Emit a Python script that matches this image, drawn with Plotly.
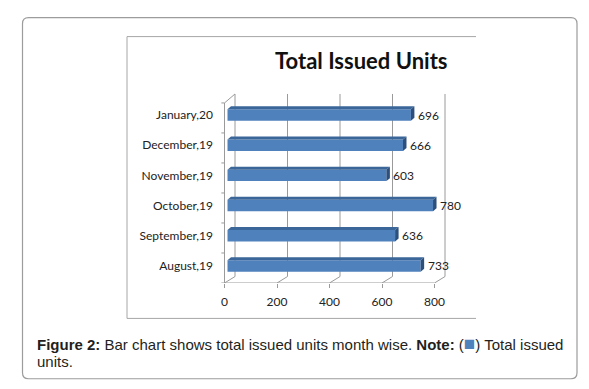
import plotly.graph_objects as go

# ---- data ----
months = ["August,19", "September,19", "October,19", "November,19", "December,19", "January,20"]
units = [733, 636, 780, 603, 666, 696]
tick_vals = [0, 200, 400, 600, 800]
tick_text = ["0", "200", "400", "600", "800"]
title_text = "Total Issued Units"
caption_1 = ("<b>Figure 2:</b> Bar chart shows total issued units month wise. <b>Note:</b> "
             "(<span style='color:#4F81BD;font-size:19px'>■</span>) Total issued")
caption_2 = "units."

# page has an 8px body margin: work in page pixels, convert to figure pixels
OFF = 8
W, H = 589 - OFF, 389 - OFF
PL, PR, PT, PB = 218, 470, 80, 283.5
PW, PH = PR - PL, PB - PT

BAR_X0, BAR_S = 227.5, 0.2635     # bar plane
FR_X0, FR_S = 224.5, 0.2625       # front plane (tick labels)
Y0, YS = 266.4, 30.26             # category centres


def yv(py):
    return (Y0 - py) / YS


def px_paper_x(px):
    return (px - PL) / PW


def px_paper_y(py):
    return (PB - py) / PH


x1_range = [(PL - BAR_X0) / BAR_S, (PR - BAR_X0) / BAR_S]
x2_range = [(PL - FR_X0) / FR_S, (PR - FR_X0) / FR_S]
y_range = [yv(PB), yv(PT)]

ypos = list(range(len(months)))
bar_w = 11.5 / YS

fig = go.Figure()
fig.add_trace(go.Bar(
    x=units, y=ypos, orientation="h", width=bar_w,
    marker=dict(color="#4F81BD", line=dict(width=0)),
    hoverinfo="skip", showlegend=False, xaxis="x", yaxis="y",
))
fig.add_trace(go.Scatter(x=[0], y=[0], mode="markers", marker=dict(opacity=0),
                         xaxis="x2", yaxis="y", showlegend=False, hoverinfo="skip"))

shapes = []
GRID = "#9A9A9A"
dxg = 10.5 / FR_S
dyg = 6.5 / YS
y_front = yv(PB)
y_top = yv(94)
y_left_top = yv(103)
for v in tick_vals:
    shapes.append(dict(type="path", xref="x2", yref="y",
                       path=f"M {v},{y_front} L {v+dxg},{y_front+dyg} L {v+dxg},{y_top}",
                       line=dict(color=GRID, width=1), layer="below"))
shapes.append(dict(type="path", xref="x2", yref="y",
                   path=f"M 0,{y_front} L 0,{y_left_top} L {dxg},{y_top}",
                   line=dict(color=GRID, width=1), layer="below"))
shapes.append(dict(type="line", xref="x2", yref="y", x0=0, x1=tick_vals[-1],
                   y0=y_front, y1=y_front, line=dict(color=GRID, width=1), layer="below"))
n = len(months)
for k in range(n + 1):
    yy = y_front + k * (y_left_top - y_front) / n
    shapes.append(dict(type="line", xref="x2", yref="y", x0=-12, x1=0, y0=yy, y1=yy,
                       line=dict(color=GRID, width=1), layer="below"))

dxb = 3.5 / BAR_S
dyb = 3.0 / YS
for i, v in zip(ypos, units):
    top = i + bar_w / 2
    bot = i - bar_w / 2
    shapes.append(dict(type="path", xref="x", yref="y",
                       path=f"M 0,{top} L {v},{top} L {v+dxb},{top+dyb} L {dxb},{top+dyb} Z",
                       fillcolor="#3A6699", line=dict(width=0)))
    shapes.append(dict(type="path", xref="x", yref="y",
                       path=f"M {v},{bot} L {v},{top} L {v+dxb},{top+dyb} L {v+dxb},{bot+dyb} Z",
                       fillcolor="#2C4F7C", line=dict(width=0)))


def P(px, py):
    return f"{px_paper_x(px)},{px_paper_y(py)}"


FRAME = "#A6A6A6"
shapes.append(dict(type="path", xref="paper", yref="paper",
                   path=f"M {P(476, 36.5)} L {P(127, 36.5)} L {P(127, 319)} L {P(476, 319)}",
                   line=dict(color=FRAME, width=1)))
x0, x1, y0, y1, r = 22.5, 577, 17.5, 379.5, 6
outer = (f"M {P(x0+r, y0)} L {P(x1-r, y0)} Q {P(x1, y0)} {P(x1, y0+r)} "
         f"L {P(x1, y1-r)} Q {P(x1, y1)} {P(x1-r, y1)} L {P(x0+r, y1)} "
         f"Q {P(x0, y1)} {P(x0, y1-r)} L {P(x0, y0+r)} Q {P(x0, y0)} {P(x0+r, y0)} Z")
shapes.append(dict(type="path", xref="paper", yref="paper", path=outer,
                   line=dict(color="#9C9C9C", width=1.2)))

annotations = []
LBL_FONT = dict(family="Lato", size=12, color="#222222")
for i, v in zip(ypos, units):
    annotations.append(dict(x=v, y=i, xref="x", yref="y", text=str(v), showarrow=False,
                            xanchor="left", yanchor="middle", xshift=5, font=LBL_FONT))
annotations.append(dict(x=px_paper_x(361.7), y=px_paper_y(60.5), xref="paper", yref="paper",
                        text=f"<b>{title_text}</b>", showarrow=False, xanchor="center", yanchor="middle",
                        font=dict(family="Lato", size=22, color="#111111")))
CAP_FONT = dict(family="Liberation Sans, Arial", size=15, color="#231F20")
annotations.append(dict(x=px_paper_x(35), y=px_paper_y(344.5), xref="paper", yref="paper",
                        text=caption_1, showarrow=False, xanchor="left", yanchor="middle", font=CAP_FONT))
annotations.append(dict(x=px_paper_x(35), y=px_paper_y(362.5), xref="paper", yref="paper",
                        text=caption_2, showarrow=False, xanchor="left", yanchor="middle", font=CAP_FONT))

fig.update_layout(
    width=W, height=H,
    margin=dict(l=PL - OFF, r=(W + OFF) - PR, t=PT - OFF, b=(H + OFF) - PB, pad=0),
    paper_bgcolor="white", plot_bgcolor="rgba(0,0,0,0)",
    xaxis=dict(range=x1_range, showgrid=False, zeroline=False, showticklabels=False,
               showline=False, fixedrange=True),
    xaxis2=dict(range=x2_range, overlaying="x", anchor="y", side="bottom",
                tickvals=tick_vals, ticktext=tick_text, ticks="outside", ticklen=4,
                tickcolor=GRID, showgrid=False, zeroline=False, showline=False,
                tickfont=LBL_FONT, ticklabelstandoff=4),
    yaxis=dict(range=y_range, tickvals=ypos, ticktext=months, showgrid=False,
               zeroline=False, showline=False, ticks="", tickfont=LBL_FONT,
               ticklabelstandoff=4),
    shapes=shapes, annotations=annotations, showlegend=False,
)

fig.write_html("out.html")
